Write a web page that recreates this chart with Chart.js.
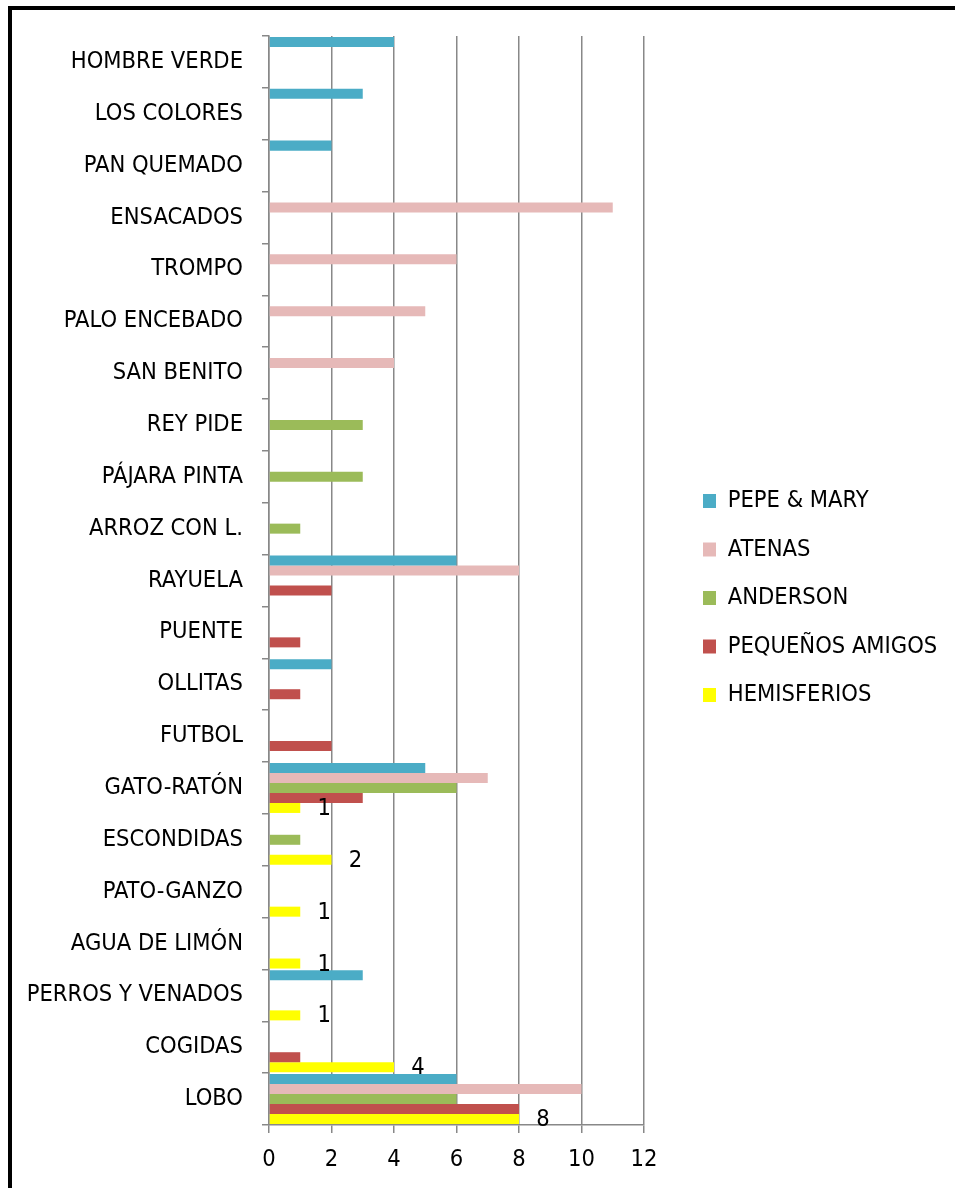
<!DOCTYPE html>
<html>
<head>
<meta charset="utf-8">
<script src="https://cdn.jsdelivr.net/npm/chart.js@4/dist/chart.umd.min.js"></script>
<style>
  html, body { margin: 0; padding: 0; background: #fff; }
  #wrap { position: relative; width: 955px; height: 1188px; overflow: hidden; }
  #frame { position: absolute; left: 8px; top: 6px; width: 1000px; height: 1300px;
           border-left: 4px solid #000; border-top: 4px solid #000; }
  #chart { position: absolute; left: 0; top: 0; }
</style>
</head>
<body>
<div id="wrap">
  <div id="frame"></div>
  <canvas id="chart" width="955" height="1188"></canvas>
</div>
<script>
// ===== datos (de arriba hacia abajo) =====
const categories = [
  'HOMBRE VERDE', 'LOS COLORES', 'PAN QUEMADO', 'ENSACADOS', 'TROMPO',
  'PALO ENCEBADO', 'SAN BENITO', 'REY PIDE', 'PÁJARA PINTA', 'ARROZ CON L.',
  'RAYUELA', 'PUENTE', 'OLLITAS', 'FUTBOL', 'GATO-RATÓN',
  'ESCONDIDAS', 'PATO-GANZO', 'AGUA DE LIMÓN', 'PERROS Y VENADOS', 'COGIDAS', 'LOBO'
];
const pepeMary    = [4, 3, 2, null, null, null, null, null, null, null, 6, null, 2, null, 5, null, null, null, 3, null, 6];
const atenas      = [null, null, null, 11, 6, 5, 4, null, null, null, 8, null, null, null, 7, null, null, null, null, null, 10];
const anderson    = [null, null, null, null, null, null, null, 3, 3, 1, null, null, null, null, 6, 1, null, null, null, null, 6];
const pequenos    = [null, null, null, null, null, null, null, null, null, null, 2, 1, 1, 2, 3, null, null, null, null, 1, 8];
const hemisferios = [null, null, null, null, null, null, null, null, null, null, null, null, null, null, 1, 2, 1, 1, 1, 4, 8];
const xTicks = [0, 2, 4, 6, 8, 10, 12];

const FONT = "'Liberation Sans Narrow', 'Arial Narrow', 'DejaVu Sans Condensed', sans-serif";
const FSIZE = 23.5;
const GRID = '#888888';

// etiquetas de valor solo para HEMISFERIOS
const valueLabels = {
  id: 'valueLabels',
  afterDatasetsDraw(chart) {
    const ctx = chart.ctx;
    const meta = chart.getDatasetMeta(4);
    ctx.save();
    ctx.font = FSIZE + 'px ' + FONT;
    ctx.fillStyle = '#000';
    ctx.textAlign = 'center';
    ctx.textBaseline = 'middle';
    meta.data.forEach((bar, i) => {
      const v = hemisferios[i];
      if (v == null) return;
      ctx.fillText(String(v), bar.x + 24, bar.y + 1);
    });
    ctx.restore();
  }
};

// ancho fijo para la leyenda (el layout la limita si no)
const legendWidth = {
  id: 'legendWidth',
  beforeInit(chart) {
    const fit = chart.legend.fit;
    chart.legend.fit = function () {
      fit.call(this);
      this.width = 277;
    };
  }
};

const mk = (label, data, color) => ({
  label, data,
  backgroundColor: color,
  borderWidth: 0,
  categoryPercentage: 0.965,
  barPercentage: 1.0
});

new Chart(document.getElementById('chart'), {
  type: 'bar',
  data: {
    labels: categories,
    datasets: [
      mk('PEPE & MARY', pepeMary, '#4BACC6'),
      mk('ATENAS', atenas, '#E6B9B8'),
      mk('ANDERSON', anderson, '#9BBB59'),
      mk('PEQUEÑOS AMIGOS', pequenos, '#C0504D'),
      mk('HEMISFERIOS', hemisferios, '#FFFF00')
    ]
  },
  options: {
    indexAxis: 'y',
    responsive: false,
    animation: false,
    layout: { padding: { left: 10, top: 36, bottom: 0, right: 0 } },
    plugins: {
      tooltip: { enabled: false },
      // hueco entre el área del gráfico y la leyenda
      title: {
        display: true, text: ' ', position: 'right', weight: 500,
        font: { size: 10, lineHeight: 1 }, padding: { top: 0, bottom: 24 }
      },
      legend: {
        position: 'right',
        fullSize: false,
        title: { display: true, text: ' ', font: { size: 10, lineHeight: 1 }, padding: { top: 25, bottom: 0 } },
        labels: {
          font: { family: FONT, size: FSIZE },
          color: '#000',
          boxWidth: 13,
          boxHeight: 14,
          padding: 25
        }
      }
    },
    scales: {
      x: {
        min: 0, max: 12,
        afterBuildTicks(scale) { scale.ticks = xTicks.map(v => ({ value: v })); },
        afterFit(scale) { scale.height = 63; },
        grid: { color: GRID, lineWidth: 1.5, tickLength: 8, tickColor: GRID },
        border: { color: GRID, width: 1.5 },
        ticks: { font: { family: FONT, size: FSIZE }, color: '#000', padding: 13 }
      },
      y: {
        afterFit(scale) { scale.width = 259; },
        grid: { drawOnChartArea: false, offset: true, color: GRID, lineWidth: 1.5, tickLength: 7 },
        border: { color: GRID, width: 1.5 },
        ticks: { font: { family: FONT, size: FSIZE }, color: '#000', padding: 19, autoSkip: false }
      }
    }
  },
  plugins: [valueLabels, legendWidth]
});
</script>
</body>
</html>
